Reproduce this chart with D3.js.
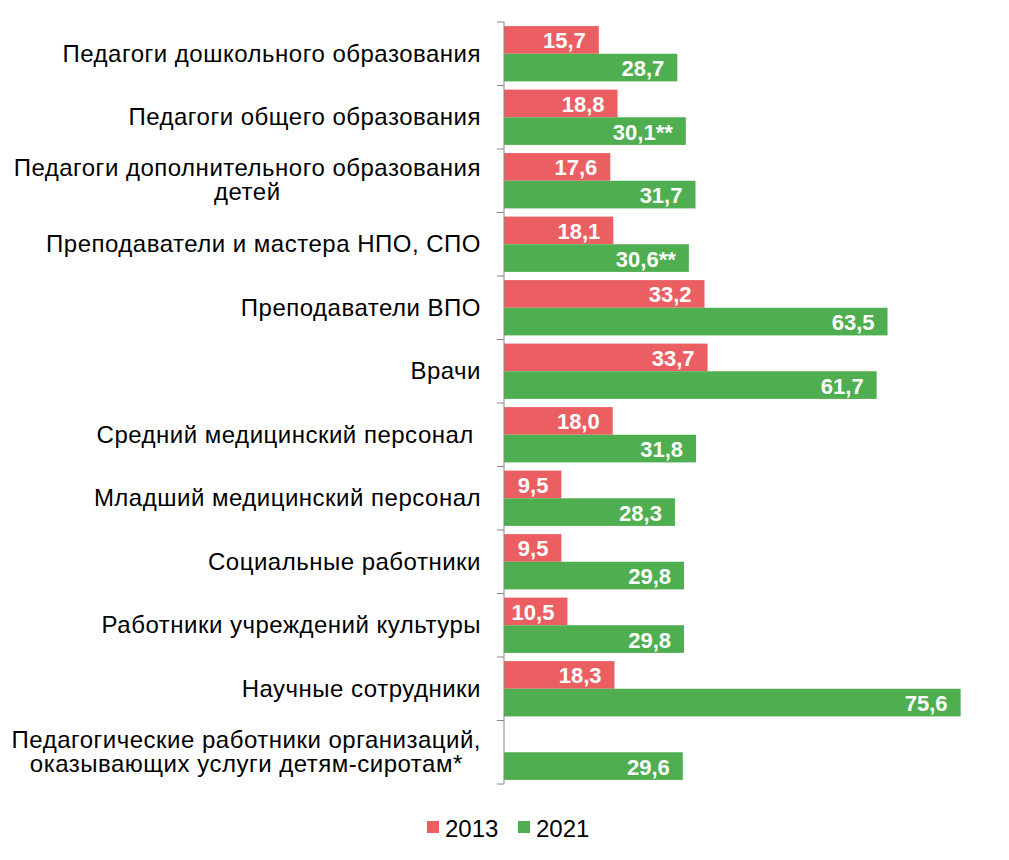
<!DOCTYPE html>
<html><head><meta charset="utf-8">
<script src="https://cdn.jsdelivr.net/npm/d3@7"></script>
<style>body{margin:0;background:#fff}svg{display:block}</style>
</head><body>
<script>
const categories = [
  ["Педагоги дошкольного образования"],
  ["Педагоги общего образования"],
  ["Педагоги дополнительного образования", "детей"],
  ["Преподаватели и мастера НПО, СПО"],
  ["Преподаватели ВПО"],
  ["Врачи"],
  ["Средний медицинский персонал "],
  ["Младший медицинский персонал"],
  ["Социальные работники"],
  ["Работники учреждений культуры"],
  ["Научные сотрудники"],
  ["Педагогические работники организаций,", "оказывающих услуги детям-сиротам*"]
];
const values2013 = [15.7, 18.8, 17.6, 18.1, 33.2, 33.7, 18.0, 9.5, 9.5, 10.5, 18.3, null];
const values2021 = [28.7, 30.1, 31.7, 30.6, 63.5, 61.7, 31.8, 28.3, 29.8, 29.8, 75.6, 29.6];
const labelSuffix2021 = ["", "**", "", "**", "", "", "", "", "", "", "", ""];
const seriesNames = ["2013", "2021"];
const colors = ["#EB5F63", "#4FAE4F"];

(function () {
const W = 1009, H = 860;
const svg = d3.select("body").append("svg").attr("width", W).attr("height", H);
const font = "'Liberation Sans', Arial, sans-serif";

const x0 = 504, plotTop = 22, plotBottom = 784;
const x = d3.scaleLinear().domain([0, 80]).range([x0, x0 + 80 * 6.04]);
const y = d3.scaleBand().domain(d3.range(categories.length)).range([plotTop, plotBottom]).paddingInner(0).paddingOuter(0);
const inner = d3.scaleBand().domain([0, 1]).range([0, y.bandwidth()]).paddingInner(0).paddingOuter(0.148);

const fmt = v => v.toFixed(1).replace(".", ",");

const data = categories.map((c, i) => ({i, vals: [values2013[i], values2021[i]]}));

const g = svg.selectAll("g.grp").data(data).join("g").attr("class", "grp")
  .attr("transform", d => `translate(0,${y(d.i)})`);

seriesNames.forEach((s, si) => {
  g.filter(d => d.vals[si] != null).append("rect")
    .attr("x", x(0))
    .attr("y", inner(si))
    .attr("width", d => x(d.vals[si]) - x(0))
    .attr("height", inner.bandwidth())
    .attr("fill", colors[si]);
  g.filter(d => d.vals[si] != null).append("text")
    .attr("x", d => x(d.vals[si]) - 13)
    .attr("y", inner(si) + inner.bandwidth() / 2 + 8.5)
    .attr("text-anchor", "end")
    .attr("fill", "#fff")
    .attr("font-family", font)
    .attr("font-weight", "bold")
    .attr("font-size", 22)
    .text(d => fmt(d.vals[si]) + (si === 1 ? labelSuffix2021[d.i] : ""));
});

// axis
const axis = d3.axisLeft(y).tickSize(0).tickFormat("");
const ag = svg.append("g").attr("transform", `translate(${x0},0)`).call(axis);
ag.select(".domain").attr("stroke", "#888").attr("d", `M0,${plotTop}V${plotBottom}`);
const bounds = d3.range(categories.length + 1).map(k => plotTop + k * y.step());
ag.selectAll("line.bt").data(bounds).join("line").attr("class", "bt")
  .attr("x1", -7).attr("x2", 0).attr("y1", d => d).attr("y2", d => d)
  .attr("stroke", "#888");

// category labels
const labelRight = 481;
categories.forEach((lines, i) => {
  const cy = y(i) + y.bandwidth() / 2;
  if (lines.length === 1) {
    svg.append("text").attr("x", labelRight).attr("y", cy + 8)
      .attr("text-anchor", "end").attr("font-family", font).attr("font-size", 24)
      .attr("letter-spacing", 0.5)
      .style("white-space", "pre").attr("fill", "#000").text(lines[0]);
  } else {
    const t = svg.append("text").attr("text-anchor", "middle").attr("font-family", font)
      .attr("font-size", 24).attr("letter-spacing", 0.5).attr("fill", "#000");
    const spans = lines.map((l, k) => t.append("tspan").attr("y", cy - 4.5 + k * 24).text(l));
    const maxW = d3.max(spans, sp => sp.node().getComputedTextLength());
    spans.forEach(sp => sp.attr("x", labelRight - maxW / 2));
  }
});

// legend
const legX = [427, 518];
seriesNames.forEach((s, si) => {
  svg.append("rect").attr("x", legX[si]).attr("y", 821).attr("width", 12).attr("height", 12).attr("fill", colors[si]);
  svg.append("text").attr("x", legX[si] + 18).attr("y", 837).attr("font-family", font).attr("font-size", 24)
    .attr("fill", "#000").text(s);
});
})();
</script>
</body></html>
